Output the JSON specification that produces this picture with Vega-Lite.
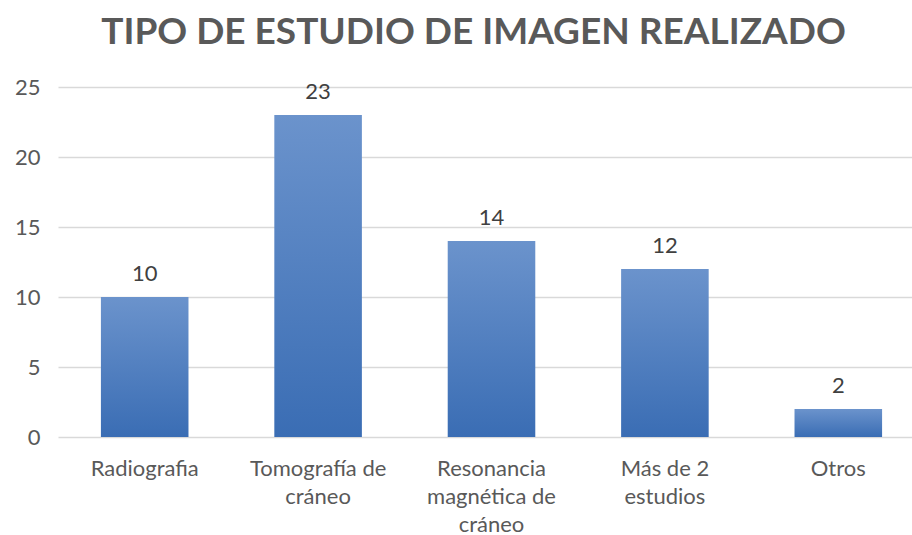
{
  "$schema": "https://vega.github.io/schema/vega-lite/v6.json",
  "autosize": "none",
  "width": 867,
  "height": 350,
  "padding": {"left": 58, "top": 87, "right": 0, "bottom": 98},
  "background": "white",
  "title": {
    "text": "TIPO DE ESTUDIO DE IMAGEN REALIZADO",
    "font": "Lato",
    "fontSize": 37,
    "fontWeight": "bold",
    "color": "#595959",
    "anchor": "middle",
    "offset": 24,
    "dx": -18
  },
  "data": {
    "values": [
      {"estudio": "Radiografia", "n": 10},
      {"estudio": "Tomografía de cráneo", "n": 23},
      {"estudio": "Resonancia magnética de cráneo", "n": 14},
      {"estudio": "Más de 2 estudios", "n": 12},
      {"estudio": "Otros", "n": 2}
    ]
  },
  "encoding": {
    "x": {
      "field": "estudio",
      "type": "nominal",
      "sort": null,
      "scale": {"paddingInner": 0.495, "paddingOuter": 0.2475},
      "axis": {
        "title": null,
        "labelAngle": 0,
        "labelFont": "Lato",
        "labelFontSize": 22,
        "labelColor": "#595959",
        "labelPadding": 31,
        "labelLineHeight": 28,
        "labelBaseline": "middle",
        "ticks": false,
        "domain": false,
        "labelExpr": "datum.value == 'Tomografía de cráneo' ? ['Tomografía de', 'cráneo'] : datum.value == 'Resonancia magnética de cráneo' ? ['Resonancia', 'magnética de', 'cráneo'] : datum.value == 'Más de 2 estudios' ? ['Más de 2', 'estudios'] : datum.value"
      }
    },
    "y": {
      "field": "n",
      "type": "quantitative",
      "scale": {"domain": [0, 25]},
      "axis": {
        "title": null,
        "values": [0, 5, 10, 15, 20, 25],
        "labelFont": "Lato",
        "labelFontSize": 22,
        "labelColor": "#595959",
        "labelPadding": 18,
        "ticks": false,
        "domain": false,
        "gridColor": "#d9d9d9",
        "gridWidth": 1.3
      }
    }
  },
  "layer": [
    {
      "mark": {
        "type": "bar",
        "color": {
          "gradient": "linear",
          "x1": 0, "y1": 0, "x2": 0, "y2": 1,
          "stops": [
            {"offset": 0, "color": "#6b93cc"},
            {"offset": 1, "color": "#3a6db4"}
          ]
        }
      }
    },
    {
      "mark": {
        "type": "text",
        "baseline": "alphabetic",
        "dy": -16,
        "font": "Lato",
        "fontSize": 22,
        "color": "#404040"
      },
      "encoding": {"text": {"field": "n", "type": "quantitative"}}
    }
  ],
  "config": {"view": {"stroke": null}}
}
